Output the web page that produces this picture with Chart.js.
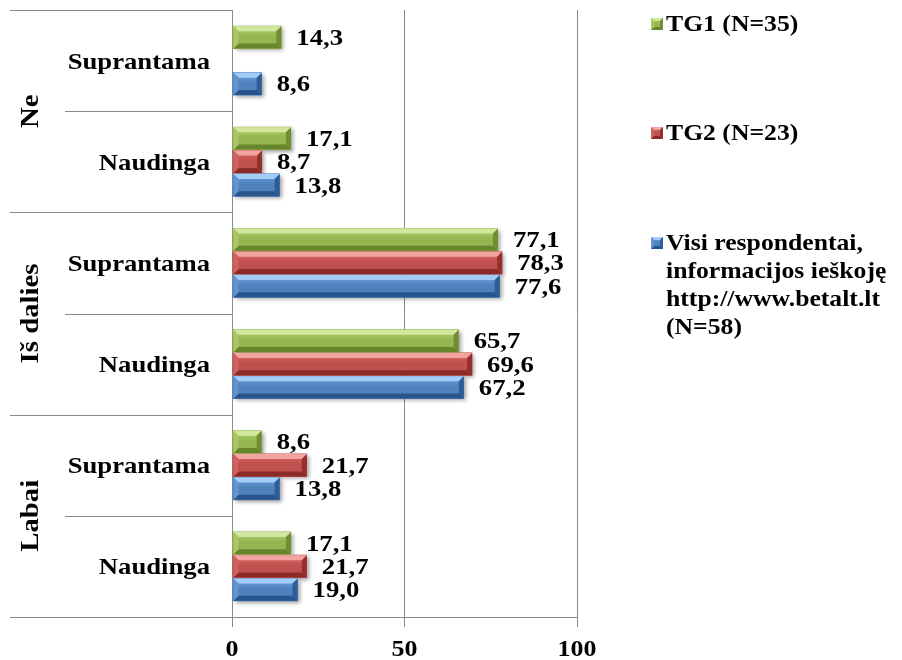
<!DOCTYPE html>
<html>
<head>
<meta charset="utf-8">
<script src="https://cdn.jsdelivr.net/npm/chart.js@4/dist/chart.umd.min.js"></script>
<style>
  html, body { margin: 0; padding: 0; background: #fff; }
  #wrap { width: 902px; height: 660px; position: relative; }
</style>
</head>
<body>
<div id="wrap"><canvas id="c" width="902" height="660"></canvas></div>
<script>
// Rows (top to bottom) and the answer groups they belong to
const rowLabels = ['Suprantama', 'Naudinga', 'Suprantama', 'Naudinga', 'Suprantama', 'Naudinga'];
const groupLabels = ['Ne', 'Iš dalies', 'Labai'];

// Shares, %
const tg1Values  = [14.3, 17.1, 77.1, 65.7, 8.6, 17.1];
const tg2Values  = [null, 8.7, 78.3, 69.6, 21.7, 21.7];
const visiValues = [8.6, 13.8, 77.6, 67.2, 13.8, 19.0];

// Legend text, one entry per series, split into its printed lines
const seriesLines = [
  ['TG1 (N=35)'],
  ['TG2 (N=23)'],
  ['Visi respondentai,', 'informacijos ieškoję', 'http://www.betalt.lt', '(N=58)']
];

const xTickValues = [0, 50, 100];

// Bevelled bar palettes
const palettes = [
  { base: '#94b650', light: '#d2e79e', face: '#b2d172', dark: '#67852b', right: '#6f8d31', left: '#a8c765' },
  { base: '#c0504d', light: '#f2a4a1', face: '#dd6d6a', dark: '#8b2b28', right: '#93302d', left: '#d0615e' },
  { base: '#4f81bd', light: '#a3cdf7', face: '#70a5e2', dark: '#28548c', right: '#2e5c95', left: '#6393d0' }
];

const FONT = '"Liberation Serif", "Times New Roman", serif';
const GRID = '#8a8a8a';

function fmt(v) { return v.toFixed(1).replace('.', ','); }

function txt(ctx, s, x, y, o) {
  o = o || {};
  ctx.save();
  ctx.translate(x, y);
  if (o.rot) ctx.rotate(o.rot);
  ctx.scale(o.sx || 1.15, 1);
  ctx.font = 'bold ' + (o.size || 23) + 'px ' + FONT;
  ctx.fillStyle = '#000';
  ctx.textAlign = o.align || 'left';
  ctx.textBaseline = 'alphabetic';
  ctx.fillText(s, 0, 0);
  ctx.restore();
}

function poly(ctx, pts, color) {
  ctx.beginPath();
  ctx.moveTo(pts[0][0], pts[0][1]);
  for (let i = 1; i < pts.length; i++) ctx.lineTo(pts[i][0], pts[i][1]);
  ctx.closePath();
  ctx.fillStyle = color;
  ctx.fill();
}

function bevel(ctx, x0, x1, yT, yB, pal, depth) {
  const w = x1 - x0, h = yB - yT;
  if (w <= 0) return;
  const d = Math.min(depth, h / 3, w / 2);
  const g = ctx.createLinearGradient(0, yT, 0, yB);
  g.addColorStop(0, pal.face);
  g.addColorStop(0.45, pal.base);
  g.addColorStop(1, pal.base);
  ctx.fillStyle = g;
  ctx.fillRect(x0, yT, w, h);
  poly(ctx, [[x0, yT], [x1, yT], [x1 - d, yT + d], [x0 + d, yT + d]], pal.light);
  poly(ctx, [[x0, yB], [x1, yB], [x1 - d, yB - d], [x0 + d, yB - d]], pal.dark);
  poly(ctx, [[x1, yT], [x1, yB], [x1 - d, yB - d], [x1 - d, yT + d]], pal.right);
  poly(ctx, [[x0, yT], [x0, yB], [x0 + d, yB - d], [x0 + d, yT + d]], pal.left);
}

function barRect(el) {
  const p = el.getProps(['x', 'y', 'base', 'height'], true);
  const x0 = Math.min(p.x, p.base) + 1, x1 = Math.max(p.x, p.base);
  return { x0: x0, x1: x1, yT: p.y - p.height / 2 + 0.5, yB: p.y + p.height / 2 - 0.5, y: p.y, end: p.x };
}

function hLine(ctx, x0, x1, y) {
  ctx.beginPath();
  ctx.moveTo(x0, Math.round(y) + 0.5);
  ctx.lineTo(x1, Math.round(y) + 0.5);
  ctx.stroke();
}

const decor = {
  id: 'decor',
  beforeDatasetsDraw(chart) {
    const ctx = chart.ctx;
    ctx.save();
    ctx.shadowColor = 'rgba(0,0,0,0.38)';
    ctx.shadowBlur = 4;
    ctx.shadowOffsetX = 2;
    ctx.shadowOffsetY = 2;
    chart.data.datasets.forEach((ds, i) => {
      chart.getDatasetMeta(i).data.forEach((el, j) => {
        if (ds.data[j] == null) return;
        const r = barRect(el);
        ctx.fillStyle = palettes[i].base;
        ctx.fillRect(r.x0, r.yT, r.x1 - r.x0, r.yB - r.yT);
      });
    });
    ctx.restore();
  },
  afterDatasetsDraw(chart) {
    const ctx = chart.ctx;
    chart.data.datasets.forEach((ds, i) => {
      chart.getDatasetMeta(i).data.forEach((el, j) => {
        const v = ds.data[j];
        if (v == null) return;
        const r = barRect(el);
        bevel(ctx, r.x0, r.x1, r.yT, r.yB, palettes[i], 5);
        txt(ctx, fmt(v), r.end + 15, r.y + 7.5, { size: 23, sx: 1.16 });
      });
    });
  },
  afterDraw(chart) {
    const ctx = chart.ctx;
    const ys = chart.scales.y, xs = chart.scales.x;
    const area = chart.chartArea;
    const n = rowLabels.length;
    const pos = rowLabels.map((_, i) => ys.getPixelForValue(i));
    const bounds = [area.top];
    for (let i = 1; i < n; i++) bounds.push((pos[i - 1] + pos[i]) / 2);
    bounds.push(area.bottom);

    // separators in the label column
    ctx.save();
    ctx.strokeStyle = GRID;
    ctx.lineWidth = 1;
    bounds.forEach((b, i) => {
      const x0 = (i % 2 === 0) ? 10 : 65;
      hLine(ctx, x0, area.left, b);
    });
    ctx.restore();

    // row labels
    rowLabels.forEach((s, i) => txt(ctx, s, 210, pos[i] + 8, { size: 23, align: 'right', sx: 1.16 }));

    // group labels, rotated
    groupLabels.forEach((s, g) => {
      const cy = (bounds[g * 2] + bounds[g * 2 + 2]) / 2;
      txt(ctx, s, 38, cy, { size: 25, align: 'center', sx: 1.15, rot: -Math.PI / 2 });
    });

    // value axis labels
    xTickValues.forEach(v => txt(ctx, String(v), xs.getPixelForValue(v), 656, { size: 23, align: 'center', sx: 1.13 }));

    // legend
    const legendTop = [31, 140, 250];
    const lineStep = 28;
    seriesLines.forEach((lines, i) => {
      const base = legendTop[i];
      bevel(ctx, 651, 663, base - 13, base - 1, palettes[i], 3);
      lines.forEach((ln, k) => txt(ctx, ln, 666, base + k * lineStep, { size: 24, sx: 1.07 }));
    });
  }
};

const seriesValues = [tg1Values, tg2Values, visiValues];

new Chart(document.getElementById('c'), {
  type: 'bar',
  data: {
    labels: rowLabels,
    datasets: seriesValues.map((vals, i) => ({
      label: seriesLines[i].join(' '),
      data: vals,
      backgroundColor: palettes[i].base,
      borderWidth: 0,
      categoryPercentage: 0.69,
      barPercentage: 1.0
    }))
  },
  options: {
    indexAxis: 'y',
    responsive: false,
    animation: false,
    devicePixelRatio: 1,
    layout: { padding: { left: 10, top: 10, right: 325, bottom: 0 } },
    scales: {
      x: {
        min: 0,
        max: 100,
        afterBuildTicks: s => { s.ticks = xTickValues.map(v => ({ value: v })); },
        ticks: { display: false },
        grid: { color: GRID, lineWidth: 1, tickLength: 10, drawTicks: true },
        border: { color: GRID, width: 1 },
        afterFit: s => { s.height = 43; }
      },
      y: {
        ticks: { display: false },
        grid: { display: false },
        border: { display: false },
        afterFit: s => { s.width = 222; }
      }
    },
    plugins: {
      legend: { display: false },
      tooltip: { enabled: false }
    }
  },
  plugins: [decor]
});
</script>
</body>
</html>
